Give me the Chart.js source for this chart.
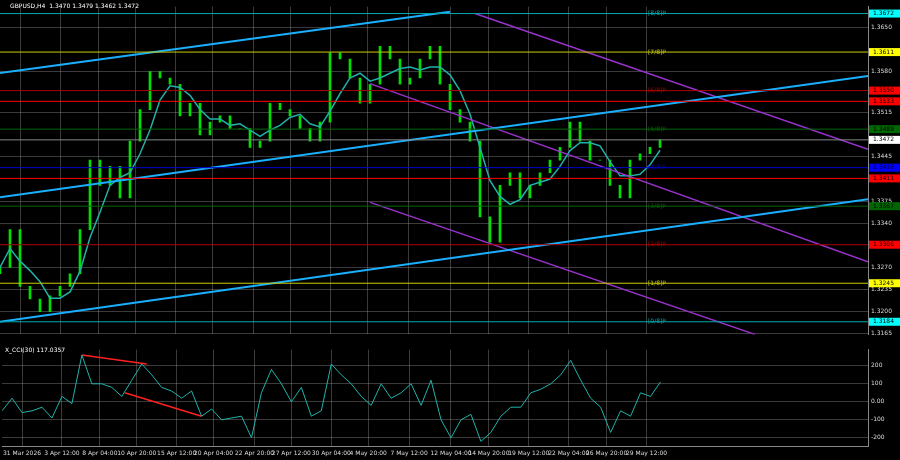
<!DOCTYPE html>
<html><head><meta charset="utf-8">
<script src="https://cdn.jsdelivr.net/npm/chart.js@4"></script>
<style>
body{margin:0;background:#000;width:900px;height:460px;overflow:hidden}
#p{position:absolute;left:0;top:0}
#c{position:absolute;left:0;top:343px}
</style></head><body>
<canvas id="p" width="900" height="341"></canvas>
<canvas id="c" width="900" height="117"></canvas>
<script>
// price path, one value every 10 bars-units
const closeX = [0,10,20,30,40,50,60,70,80,90,100,110,120,130,140,150,160,170,180,190,200,210,220,230,240,250,260,270,280,290,300,310,320,330,340,350,360,370,380,390,400,410,420,430,440,450,460,470,480,490,500,510,520,530,540,550,560,570,580,590,600,610,620,630,640,650,660]
const closes = [1.3270,1.3330,1.3240,1.3220,1.3200,1.3225,1.3240,1.3260,1.3330,1.3440,1.3400,1.3430,1.3380,1.3470,1.3520,1.3580,1.3570,1.3560,1.3510,1.3530,1.3480,1.3500,1.3510,1.3490,1.3490,1.3460,1.3470,1.3530,1.3520,1.3510,1.3490,1.3470,1.3500,1.3610,1.3600,1.3570,1.3530,1.3560,1.3620,1.3600,1.3560,1.3570,1.3600,1.3620,1.3560,1.3520,1.3500,1.3470,1.3350,1.3310,1.3400,1.3420,1.3380,1.3400,1.3420,1.3440,1.3460,1.3500,1.3470,1.3440,1.3440,1.3400,1.3380,1.3440,1.3450,1.3460,1.3472]
const cci = [-50,20,-60,-50,-30,-90,30,-10,260,100,100,80,30,120,210,150,80,60,20,60,-80,-40,-100,-90,-80,-200,50,180,100,0,80,-80,-50,210,150,100,30,-20,100,20,50,100,-20,120,-100,-200,-100,-70,-220,-170,-80,-30,-30,50,70,100,150,230,120,20,-30,-170,-50,-80,50,30,110]
const levels = [1.3672,1.3611,1.3550,1.3533,1.3489,1.3472,1.3428,1.3411,1.3367,1.3306,1.3245,1.3184]
const levelColors = ['#0aa','#cc0','#a00','#f00','#060','#888','#00c','#f00','#060','#a00','#cc0','#0aa']
const levelBox = ['#0ff','#ff0','#f00','#f00','#060','#fff','#00f','#f00','#060','#f00','#ff0','#0ff']
const murrey = ['[8/8]P','[7/8]P','[6/8]P','','[5/8]P','','[4/8]P','','[3/8]P','[2/8]P','[1/8]P','[0/8]P']
const priceTicks = [1.3650,1.3580,1.3515,1.3445,1.3375,1.3340,1.3270,1.3235,1.3200,1.3165]
const timeTicks = [20,60,98,135,175,212,253,290,330,367,408,450,488,528,568,606,646]
const timeLabels = ['31 Mar 2026','3 Apr 12:00','8 Apr 04:00','10 Apr 20:00','15 Apr 12:00','20 Apr 04:00','22 Apr 20:00','27 Apr 12:00','30 Apr 04:00','4 May 20:00','7 May 12:00','12 May 04:00','14 May 20:00','19 May 12:00','22 May 04:00','26 May 20:00','29 May 12:00']
const cyanLines = [[[0,1.3578],[450,1.3675]],[[0,1.3381],[868,1.3573]],[[0,1.3184],[868,1.3378]]]
const purpleLines = [[[475,1.3672],[868,1.3457]],[[370,1.3561],[868,1.3279]],[[370,1.3373],[755,1.3164]]]
const cciLines = [[[80,260],[145,210]],[[123,50],[200,-80]]]

const grid = {color:'rgba(170,170,170,0.35)', borderDash:[3,3], drawTicks:false}
const pts = arr => arr.map(([x,y]) => ({x,y}))
const candles = closes.map((c,i) => ({x: closeX[i], y: [i ? closes[i-1] : c - 0.001, c]}))
const ma = closes.map((c,i) => {
  const s = closes.slice(Math.max(0,i-3), i+1)
  return {x: closeX[i], y: s.reduce((a,b)=>a+b,0)/s.length}
})
const line = (data,color,w) => ({type:'line', data, borderColor:color, borderWidth:w, pointRadius:0, fill:false})

const boxes = {
  id:'boxes',
  afterDraw(chart){
    const {ctx, scales:{x,y}} = chart
    ctx.save(); ctx.font='6px "DejaVu Sans"'; ctx.textBaseline='middle'
    levels.forEach((v,i) => {
      const py = y.getPixelForValue(v)
      ctx.fillStyle = levelBox[i]; ctx.fillRect(869, py-4, 31, 8)
      ctx.fillStyle = '#000'; ctx.fillText(v.toFixed(4), 873, py)
      if (murrey[i]) { ctx.fillStyle = levelColors[i]; ctx.fillText(murrey[i], x.getPixelForValue(648), py) }
    })
    ctx.fillStyle='#fff'; ctx.fillText('GBPUSD,H4  1.3470 1.3479 1.3462 1.3472', 10, 6)
    ctx.restore()
  }
}

new Chart(document.getElementById('p'), {
  data: {datasets: [
    ...levels.map((v,i) => line([{x:0,y:v},{x:868,y:v}], levelColors[i], 1)),
    ...cyanLines.map(l => line(pts(l), '#1ab0ff', 2)),
    ...purpleLines.map(l => line(pts(l), '#9932cc', 1.5)),
    line(ma, '#20b2aa', 1.5),
    {type:'bar', data:candles, backgroundColor:'#00e000', barThickness:2}
  ]},
  options: {
    responsive:false, animation:false,
    layout:{padding:0},
    plugins:{legend:{display:false}, tooltip:{enabled:false}},
    scales:{
      x:{type:'linear', offset:false, min:0, max:868, display:true, grid:{...grid, offset:false}, border:{display:false},
        ticks:{display:false}, afterFit:a => {a.height = 0},
        afterBuildTicks:a => {a.ticks = timeTicks.map(v=>({value:v}))}},
      y:{position:'right', min:1.3164, max:1.3683, grid, border:{color:'#888'},
        afterFit:a => {a.width = 32},
        afterBuildTicks:a => {a.ticks = priceTicks.map(v=>({value:v}))},
        ticks:{color:'#ddd', font:{size:6, family:'DejaVu Sans'}, padding:3, callback:v=>v.toFixed(4)}}
    }
  },
  plugins:[boxes]
})

new Chart(document.getElementById('c'), {
  data: {datasets: [
    line(closeX.map((x,i)=>({x,y:cci[i]})), '#20b2aa', 1),
    ...cciLines.map(l => line(pts(l), '#ff2020', 1.5))
  ]},
  options: {
    responsive:false, animation:false,
    layout:{padding:0},
    plugins:{legend:{display:false}, tooltip:{enabled:false}},
    scales:{
      x:{type:'linear', min:0, max:868, grid, border:{color:'#888'},
        afterBuildTicks:a => {a.ticks = timeTicks.map(v=>({value:v}))},
        ticks:{color:'#ddd', font:{size:6, family:'DejaVu Sans'}, padding:3, maxRotation:0, autoSkip:false,
          callback:(v,i)=>timeLabels[i]}},
      y:{position:'right', min:-250, max:290, grid, border:{color:'#888'},
        afterFit:a => {a.width = 32},
        afterBuildTicks:a => {a.ticks = [200,100,0,-100,-200].map(v=>({value:v}))},
        ticks:{color:'#ddd', font:{size:6, family:'DejaVu Sans'}, padding:3, callback:v=>v===0?'0.00':v}}
    }
  },
  plugins:[{id:'lbl', afterDraw(ch){const c=ch.ctx; c.save(); c.fillStyle='#fff'; c.font='6px "DejaVu Sans"'; c.fillText('X_CCI(30) 117.0357',5,9); c.restore()}}]
})
</script>
</body></html>
